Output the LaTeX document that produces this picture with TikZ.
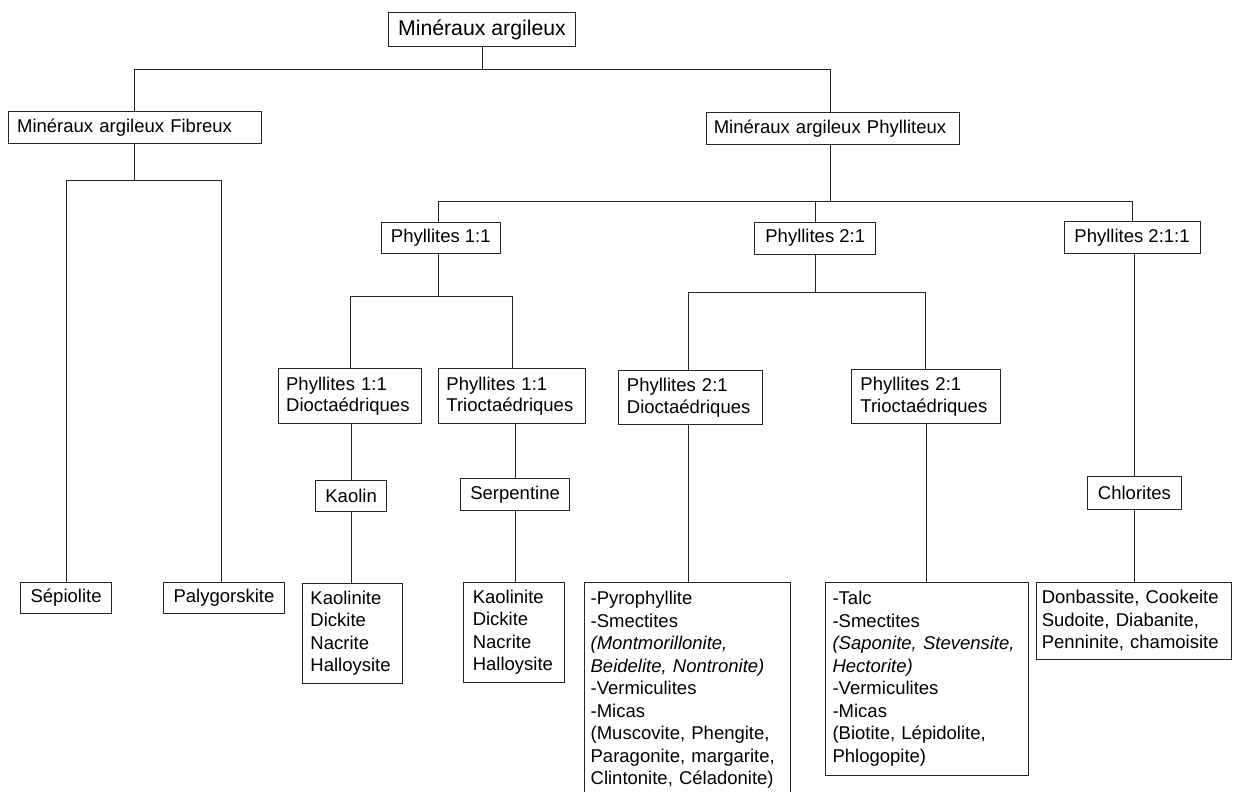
\documentclass[tikz,border=0pt]{standalone}
\usepackage{fontspec}
\setmainfont{Liberation Sans}
\tikzset{
  box/.style={draw=black!85, line width=0.9pt, inner sep=0pt, anchor=north west},
  ctr/.style={box, align=center},
  lft/.style={box, align=left},
  fn/.style={font=\fontsize{18.5}{22.5}\selectfont},
  hd/.style={font=\fontsize{18.5}{21.7}\selectfont},
  link/.style={draw=black!85, line width=0.9pt}
}
\begin{document}
\begin{tikzpicture}[x=1pt,y=-1pt]
\useasboundingbox (0,0) rectangle (1234,792);
\clip (0,0) rectangle (1234,792);
\fill[white] (0,0) rectangle (1234,792);
% level coordinates
\coordinate (y1) at (0,69.3);
\coordinate (y2) at (0,180);
\coordinate (y3) at (0,201.5);
\coordinate (y4) at (0,296);
\coordinate (y5) at (0,292.5);
% nodes
\node[ctr, font=\fontsize{21.25}{25}\selectfont, minimum width=186.4pt, minimum height=34pt] (root) at (388.3,12) {Minéraux argileux};
\node[lft, hd, inner xsep=9pt, text width=235.3pt, minimum height=31.7pt] (fib) at (7.7,111) {Minéraux argileux Fibreux};
\node[lft, hd, inner xsep=7.6pt, text width=237.8pt, minimum height=32.3pt] (phyl) at (705.7,112) {Minéraux argileux Phylliteux};
\node[ctr, hd, minimum width=119.3pt, minimum height=31.6pt] (p11) at (380.7,221.7) {Phyllites 1:1};
\node[ctr, hd, minimum width=121pt, minimum height=31.5pt] (p21) at (754.3,222) {Phyllites 2:1};
\node[ctr, hd, minimum width=136.2pt, minimum height=32.3pt] (p211) at (1063.5,221) {Phyllites 2:1:1};
\node[lft, hd, inner xsep=8pt, text width=127.6pt, minimum height=55pt] (p11d) at (277.7,368.3) {Phyllites 1:1\\Dioctaédriques};
\node[lft, hd, inner xsep=8pt, text width=131.3pt, minimum height=55pt] (p11t) at (438,368.3) {Phyllites 1:1\\Trioctaédriques};
\node[lft, hd, inner xsep=8.5pt, text width=127.3pt, minimum height=54pt] (p21d) at (618,370) {Phyllites 2:1\\Dioctaédriques};
\node[lft, hd, inner xsep=9pt, text width=130.7pt, minimum height=54.3pt] (p21t) at (851,369) {Phyllites 2:1\\Trioctaédriques};
\node[ctr, fn, minimum width=70.7pt, minimum height=31pt] (kaolin) at (315.3,479.7) {Kaolin};
\node[ctr, fn, minimum width=109.3pt, minimum height=32.3pt] (serp) at (460,477.7) {Serpentine};
\node[ctr, fn, minimum width=94pt, minimum height=32.5pt] (chlor) at (1087,476) {Chlorites};
\node[ctr, fn, minimum width=90.7pt, minimum height=31.6pt] (sep) at (20.3,581.7) {Sépiolite};
\node[ctr, fn, minimum width=121pt, minimum height=31.6pt] (paly) at (163,581.7) {Palygorskite};
\node[lft, fn, inner xsep=8.5pt, text width=83.5pt, minimum height=100pt] (kl1) at (301.5,582.7) {Kaolinite\\Dickite\\Nacrite\\Halloysite};
\node[lft, fn, inner xsep=9pt, text width=82.7pt, minimum height=100.3pt] (kl2) at (463.3,581.7) {Kaolinite\\Dickite\\Nacrite\\Halloysite};
\node[lft, fn, inner xsep=6pt, text width=193.4pt, minimum height=215.2pt] (pyro) at (584.2,581.7) {-Pyrophyllite\\-Smectites\\\textit{(Montmorillonite,}\\\textit{Beidelite, Nontronite)}\\-Vermiculites\\-Micas\\(Muscovite, Phengite,\\Paragonite, margarite,\\Clintonite, Céladonite)};
\node[lft, fn, inner xsep=7.5pt, text width=188.3pt, minimum height=193.3pt] (talc) at (824.6,581.7) {-Talc\\-Smectites\\\textit{(Saponite, Stevensite,}\\\textit{Hectorite)}\\-Vermiculites\\-Micas\\(Biotite, Lépidolite,\\Phlogopite)};
\node[lft, fn, inner xsep=5pt, text width=184.7pt, minimum height=77.6pt] (chlist) at (1036.3,581.7) {Donbassite, Cookeite\\Sudoite, Diabanite,\\Penninite, chamoisite};
% connectors
\draw[link] (root.south) -- (root.south |- y1);
\draw[link] (fib.north) |- ([xshift=-2.2pt]phyl.north |- y1) -- ([xshift=-2.2pt]phyl.north);
\draw[link] (fib.south) -- (fib.south |- y2);
\draw[link] (sep.north) |- ([xshift=-2.8pt]paly.north |- y2) -- ([xshift=-2.8pt]paly.north);
\draw[link] ([xshift=-2.2pt]phyl.south) -- ([xshift=-2.2pt]phyl.south |- y3);
\draw[link] ([xshift=-2pt]p11.north) |- (p211.north |- y3) -- (p211.north);
\draw[link] (p21.north) -- (p21.north |- y3);
\draw[link] ([xshift=-2pt]p11.south) -- ([xshift=-2pt]p11.south |- y4);
\draw[link] (p11d.north) |- (p11t.north |- y4) -- (p11t.north);
\draw[link] (p21.south) -- (p21.south |- y5);
\draw[link] ([xshift=-2pt]p21d.north) |- (p21t.north |- y5) -- (p21t.north);
\draw[link] (kaolin.north |- p11d.south) -- (kaolin.north);
\draw[link] (kaolin.south) -- (kaolin.south |- kl1.north);
\draw[link] (serp.north |- p11t.south) -- (serp.north);
\draw[link] (serp.south) -- (serp.south |- kl2.north);
\draw[link] ([xshift=-2pt]p21d.south) -- ([xshift=-2pt]p21d.south |- pyro.north);
\draw[link] (talc.north |- p21t.south) -- (talc.north);
\draw[link] ([xshift=2pt]p211.south) -- ([xshift=2pt]p211.south |- chlor.north);
\draw[link] (chlor.south) -- (chlor.south |- chlist.north);
\end{tikzpicture}
\end{document}
